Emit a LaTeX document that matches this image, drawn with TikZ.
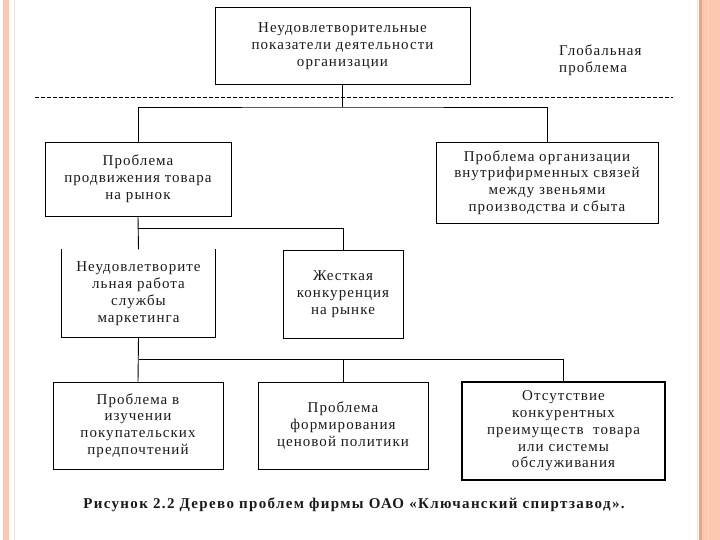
\documentclass[tikz,border=0pt]{standalone}
\usepackage{fontspec}
\setmainfont{Liberation Serif}[LetterSpace=7]
\definecolor{peach}{HTML}{FCC8B0}
\definecolor{peachdark}{HTML}{E9A57F}
\definecolor{peachlight}{HTML}{F3E3D6}
\definecolor{inktext}{HTML}{1A1A1A}
\tikzset{
  box/.style={draw, line width=0.9pt, align=center, inner sep=0pt, text=inktext,
    font=\fontsize{15}{16.8}\selectfont},
  openbox/.style={align=center, inner sep=0pt, text=inktext,
    font=\fontsize{15}{16.8}\selectfont},
  link/.style={line width=0.9pt},
  plain/.style={align=left, inner sep=0pt, text=inktext,
    font=\fontsize{15}{16.8}\selectfont},
  captionstyle/.style={inner sep=0pt, text=inktext,
    font=\fontsize{15}{16}\selectfont\bfseries\addfontfeatures{LetterSpace=9}}
}
\begin{document}
\begin{tikzpicture}[x=1pt,y=-1pt]
\useasboundingbox (0,0) rectangle (720,540);
% side decoration
\fill[peach] (3,0) rectangle (9,540);
\draw[peachlight, line width=0.8pt] (14,0) -- (14,540);
\draw[peachlight, line width=1pt] (697,0) -- (697,540);
\fill[peachdark] (699,0) rectangle (702,540);
\fill[peach] (702,0) rectangle (720,540);
\draw[peachdark!40, line width=0.6pt] (708,0) -- (708,540);

% nodes
\node[box, minimum width=255pt, minimum height=77pt] (top) at (342.5,46)
  {Неудовлетворительные\\показатели деятельности\\организации};
\node[plain, anchor=north west] (glob) at (559,44.5) {Глобальная\\проблема};

\node[box, minimum width=186pt, minimum height=74pt] (p1) at (138,179)
  {Проблема\\продвижения товара\\на рынок};
\node[box, minimum width=222pt, minimum height=81pt] (p2) at (547,182.5)
  {Проблема организации\\внутрифирменных связей\\между звеньями\\производства и сбыта};

\node[openbox, minimum width=153pt, minimum height=88pt] (m) at (138.5,293.5)
  {Неудовлетворите\\льная работа\\службы\\маркетинга};
\node[box, minimum width=120pt, minimum height=88pt] (k) at (343,294)
  {Жесткая\\конкуренция\\на рынке};

\node[box, minimum width=170pt, minimum height=87pt] (b1) at (138,425.5)
  {Проблема в\\изучении\\покупательских\\предпочтений};
\node[box, minimum width=170pt, minimum height=87pt] (b2) at (343,425.5)
  {Проблема\\формирования\\ценовой политики};
\node[box, line width=1.6pt, minimum width=203pt, minimum height=98pt] (b3) at (563.5,431)
  {Отсутствие\\конкурентных\\преимуществ \ товара\\или системы\\обслуживания};

\node[captionstyle] (cap) at (354,505)
  {Рисунок 2.2 Дерево проблем фирмы ОАО «Ключанский спиртзавод».};

% open-top box for marketing
\draw[link] (m.north west) -- (m.south west) -- (m.south east) -- (m.north east);

% dashed separator
\coordinate (dl) at (35,97);
\coordinate (dr) at (673,97);
\draw[line width=0.8pt, dash pattern=on 4pt off 2pt] (dl) -- (dr);

% connectors
\coordinate (j1) at (342.5,107);
\coordinate (j2) at (138,228);
\coordinate (j3) at (138.5,359);
\draw[link] (top.south) -- (j1);
\draw[link] (p1.north) |- (j1) -| (p2.north);
\draw[link] (p1.south) -- (m.north);
\draw[link] (j2) -| (k.north);
\draw[link] (m.south) -- (b1.north);
\draw[link] (j3) -| (b2.north);
\draw[link] (j3) -| (b3.north);
\end{tikzpicture}
\end{document}
